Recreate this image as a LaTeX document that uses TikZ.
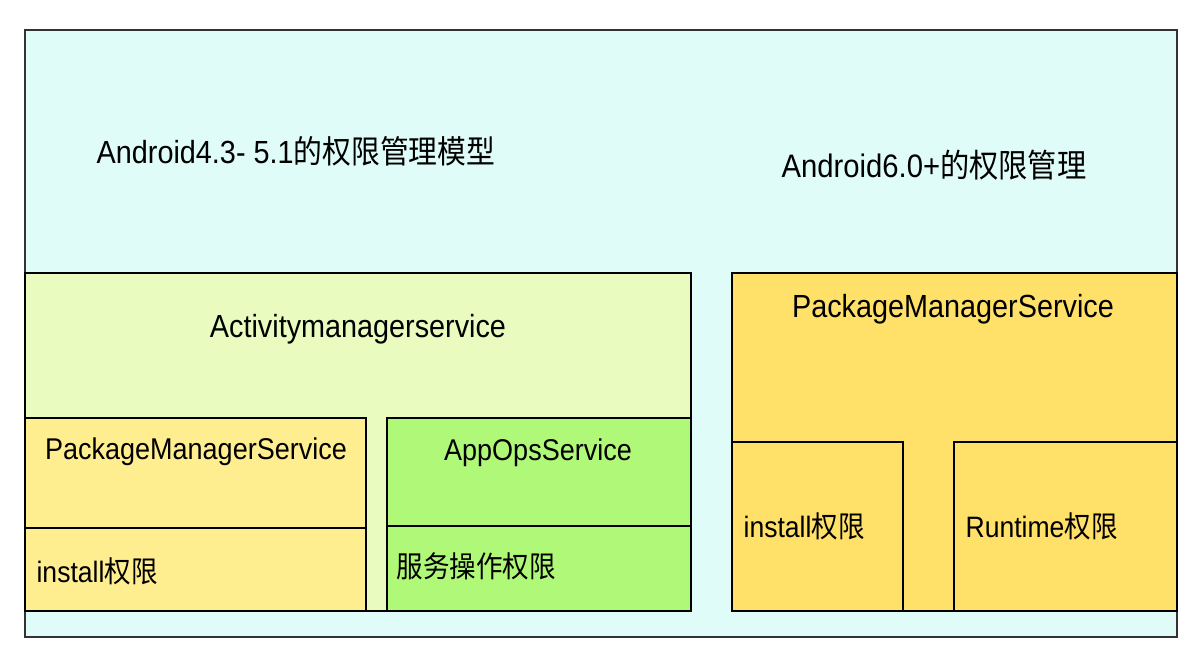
\documentclass[tikz,border=0pt]{standalone}
\usepackage{fontspec}
\setmainfont{Liberation Sans}[FakeStretch=0.9]
\newfontfamily\cjk{Noto Sans CJK SC}[FakeStretch=0.9]
\newcommand{\txtsize}[1]{\fontsize{#1}{#1}\selectfont}
\definecolor{outerbg}{HTML}{E0FCF8}
\definecolor{amsbg}{HTML}{EAFBC0}
\definecolor{pmsoldbg}{HTML}{FFEE90}
\definecolor{appopsbg}{HTML}{B0F878}
\definecolor{pmsnewbg}{HTML}{FFE068}
\tikzset{
  label text/.style={inner sep=0pt, text=black},
}
\begin{document}
\begin{tikzpicture}[x=1pt, y=-1pt, line width=1.2pt]
	\useasboundingbox (0,0) rectangle (1200,665);
	\fill[white] (0,0) rectangle (1200,665);
	\filldraw[color=outerbg, draw=black!80] (25, 30) rectangle (1177, 637);
	% Android 4.3 - 5.1
	\filldraw[color=amsbg, draw=black] (25, 273) rectangle (691, 611);
	\filldraw[color=pmsoldbg, draw=black] (25, 418) rectangle (366, 528);
	\filldraw[color=pmsoldbg, draw=black] (25, 528) rectangle (366, 611);
	\filldraw[color=appopsbg, draw=black] (387, 418) rectangle (691, 526);
	\filldraw[color=appopsbg, draw=black] (387, 526) rectangle (691, 611);
	% Android 6.0+
	\filldraw[color=pmsnewbg, draw=black] (732, 273) rectangle (1177, 611);
	\filldraw[color=pmsnewbg, draw=black] (732, 442) rectangle (903, 611);
	\filldraw[color=pmsnewbg, draw=black] (954, 442) rectangle (1177, 611);
	% texts
	\node[label text, anchor=base] (title43) at (296, 163) {\txtsize{32}Android4.3- 5.1\cjk 的权限管理模型};
	\node[label text, anchor=base] (title60) at (934, 177) {\txtsize{32.5}Android6.0+\cjk 的权限管理};
	\node[label text, anchor=base] (ams) at (358, 337) {\txtsize{32}Activitymanagerservice};
	\node[label text, anchor=base] (pmsold) at (196, 459) {\txtsize{30}PackageManagerService};
	\node[label text, anchor=base west] (installold) at (36, 582) {\txtsize{29.5}install\cjk 权限};
	\node[label text, anchor=base] (appops) at (538, 460) {\txtsize{30}AppOpsService};
	\node[label text, anchor=base west] (opsperm) at (396, 577) {\txtsize{29.5}\cjk 服务操作权限};
	\node[label text, anchor=base] (pmsnew) at (953, 317) {\txtsize{32}PackageManagerService};
	\node[label text, anchor=base west] (installnew) at (743, 537) {\txtsize{29.5}install\cjk 权限};
	\node[label text, anchor=base west] (runtime) at (965, 537) {\txtsize{29.5}Runtime\cjk 权限};
\end{tikzpicture}
\end{document}
